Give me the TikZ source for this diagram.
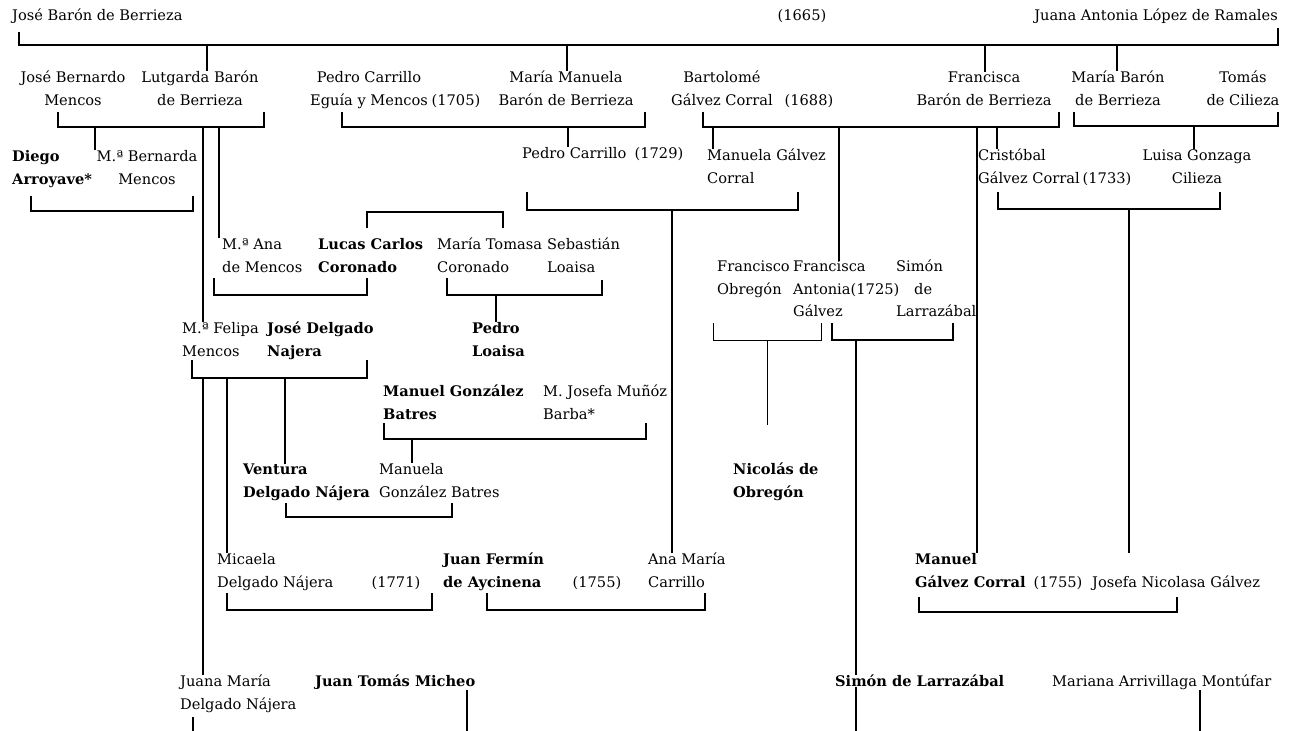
\documentclass[tikz,border=0pt]{standalone}
\usepackage{fontspec}
\setmainfont{DejaVu Serif}
\usetikzlibrary{positioning, calc}

\begin{document}
\begin{tikzpicture}[
    x=1pt, y=-1pt,
    font=\fontsize{14.6}{22.5}\selectfont,
    pers/.style={inner sep=0pt, align=left, anchor=base west},
    persc/.style={inner sep=0pt, align=center, anchor=base},
    heir/.style={pers, font=\fontsize{14.6}{22.5}\selectfont\bfseries},
    yr/.style={inner sep=0pt, anchor=base},
    link/.style={line width=1.1pt},
    faint/.style={line width=0.6pt}
]
\useasboundingbox (0,0) rectangle (1291,731);

% Row 0: founders
\node[pers] (jose) at (12,20) {José Barón de Berrieza};
\node[yr] (y1665) at (802,20) {(1665)};
\node[pers, anchor=base east] (juana) at (1278,20) {Juana Antonia López de Ramales};

% Row 1: children and spouses (base = last line)
\node[persc] (jbernardo) at (73,105) {José Bernardo\\Mencos};
\node[persc] (lutgarda) at (200,105) {Lutgarda Barón\\de Berrieza};
\node[persc] (pcarrillo) at (369,105) {Pedro Carrillo\\Eguía y Mencos};
\node[yr] (y1705) at (456,105) {(1705)};
\node[persc] (mmanuela) at (566,105) {María Manuela\\Barón de Berrieza};
\node[persc] (bartolome) at (722,105) {Bartolomé\\Gálvez Corral};
\node[yr] (y1688) at (809,105) {(1688)};
\node[persc] (francisca) at (984,105) {Francisca\\Barón de Berrieza};
\node[persc] (mbaron) at (1118,105) {María Barón\\de Berrieza};
\node[persc] (tomas) at (1243,105) {Tomás\\de Cilieza};

% Row 2
\node[heir] (diego) at (12,184) {Diego\\Arroyave*};
\node[persc] (mbernarda) at (147,184) {M.ª Bernarda\\Mencos};
\node[pers] (pcarrillojr) at (522,158.5) {Pedro Carrillo};
\node[yr] (y1729) at (659,158.5) {(1729)};
\node[pers] (manuela) at (707,183) {Manuela Gálvez\\Corral};
\node[pers] (cristobal) at (978,183) {Cristóbal\\Gálvez Corral};
\node[yr] (y1733) at (1107,183) {(1733)};
\node[persc] (luisa) at (1197,183) {Luisa Gonzaga\\Cilieza};

% Row 3
\node[pers] (mana) at (222,272) {M.ª Ana\\de Mencos};
\node[heir] (lucas) at (318,272) {Lucas Carlos\\Coronado};
\node[pers] (mtomasa) at (437,272) {María Tomasa\\Coronado};
\node[pers] (sebastian) at (547,272) {Sebastián\\Loaisa};
\node[pers] (francisco) at (717,294) {Francisco\\Obregón};
\node[pers] (fantonia) at (793,316.5) {Francisca\\Antonia\\Gálvez};
\node[yr] (y1725) at (875,294) {(1725)};
\node[pers] (simon) at (896,316.5) {Simón\\\hspace*{18pt}de\\Larrazábal};

% Row 4
\node[pers] (mfelipa) at (182,356) {M.ª Felipa\\Mencos};
\node[heir] (jdelgado) at (267,356) {José Delgado\\Najera};
\node[heir] (ploaisa) at (472,356) {Pedro\\Loaisa};
\node[heir] (mgonzalez) at (383,419) {Manuel González\\Batres};
\node[pers] (mjosefa) at (543,419) {M. Josefa Muñóz\\Barba*};

% Row 5
\node[heir] (ventura) at (243,497) {Ventura\\Delgado Nájera};
\node[pers] (manuelagb) at (379,497) {Manuela\\González Batres};
\node[heir] (nicolas) at (733,497) {Nicolás de\\Obregón};

% Row 6
\node[pers] (micaela) at (217,587) {Micaela\\Delgado Nájera};
\node[yr] (y1771) at (396,587) {(1771)};
\node[heir] (jfermin) at (443,587) {Juan Fermín\\de Aycinena};
\node[yr] (y1755a) at (597,587) {(1755)};
\node[pers] (anamaria) at (648,587) {Ana María\\Carrillo};
\node[heir] (mgalvez) at (915,587) {Manuel\\Gálvez Corral};
\node[yr] (y1755b) at (1058,587) {(1755)};
\node[pers] (josefa) at (1092,587) {Josefa Nicolasa Gálvez};

% Row 7
\node[pers] (juanamaria) at (180,709) {Juana María\\Delgado Nájera};
\node[heir] (jtomas) at (315,686.5) {Juan Tomás Micheo};
\node[heir] (slarrazabal) at (835,686.5) {Simón de Larrazábal};
\node[pers] (mariana) at (1052,686.5) {Mariana Arrivillaga Montúfar};

% marriage brackets
\coordinate (m0a) at (19,32);    \coordinate (m0b) at (1278,28);
\coordinate (m1a) at (58,112);   \coordinate (m1b) at (264,112);
\coordinate (m2a) at (342,112);  \coordinate (m2b) at (645,112);
\coordinate (m3a) at (703,112);  \coordinate (m3b) at (1059,112);
\coordinate (m4a) at (1074,112); \coordinate (m4b) at (1278,112);
\coordinate (m5a) at (31,196);   \coordinate (m5b) at (193,196);
\coordinate (m6a) at (527,192);  \coordinate (m6b) at (798,192);
\coordinate (m7a) at (998,192);  \coordinate (m7b) at (1220,192);
\coordinate (m8a) at (214,278);  \coordinate (m8b) at (367,278);
\coordinate (m9a) at (447,278);  \coordinate (m9b) at (602,280);
\coordinate (m10a) at (713,323); \coordinate (m10b) at (821,323);
\coordinate (m11a) at (832,323); \coordinate (m11b) at (953,323);
\coordinate (m12a) at (192,360); \coordinate (m12b) at (367,360);
\coordinate (m13a) at (384,423); \coordinate (m13b) at (646,423);
\coordinate (m14a) at (286,503); \coordinate (m14b) at (452,503);
\coordinate (m15a) at (227,593); \coordinate (m15b) at (432,593);
\coordinate (m16a) at (487,593); \coordinate (m16b) at (705,593);
\coordinate (m17a) at (919,597); \coordinate (m17b) at (1177,597);
\coordinate (s1a) at (367,228);  \coordinate (s1b) at (503,228);

\draw[link] (m0a) -- ++(0,13) -| (m0b);
\draw[link] (m1a) -- ++(0,15) -| (m1b);
\draw[link] (m2a) -- ++(0,15) -| (m2b);
\draw[link] (m3a) -- ++(0,15) -| (m3b);
\draw[link] (m4a) -- ++(0,14) -| (m4b);
\draw[link] (m5a) -- ++(0,15) -| (m5b);
\draw[link] (m6a) -- ++(0,18) -| (m6b);
\draw[link] (m7a) -- ++(0,17) -| (m7b);
\draw[link] (m8a) -- ++(0,17) -| (m8b);
\draw[link] (m9a) -- ++(0,17) -| (m9b);
\draw[faint] (m10a) -- ++(0,17) -| (m10b);
\draw[link] (m11a) -- ++(0,17) -| (m11b);
\draw[link] (m12a) -- ++(0,18) -| (m12b);
\draw[link] (m13a) -- ++(0,16) -| (m13b);
\draw[link] (m14a) -- ++(0,14) -| (m14b);
\draw[link] (m15a) -- ++(0,17) -| (m15b);
\draw[link] (m16a) -- ++(0,17) -| (m16b);
\draw[link] (m17a) -- ++(0,15) -| (m17b);
% siblings Lucas and Maria Tomasa
\draw[link] (s1a) -- ++(0,-16) -| (s1b);

% descent lines
\coordinate (d1) at (207,45);   \coordinate (d2) at (567,45);
\coordinate (d3) at (985,45);   \coordinate (d4) at (1117,45);
\coordinate (d5) at (95,127);   \coordinate (d6) at (203,127);
\coordinate (d7) at (219,127);  \coordinate (d8) at (568,127);
\coordinate (d9) at (713,127);  \coordinate (d10) at (839,127);
\coordinate (d11) at (977,127); \coordinate (d12) at (997,127);
\coordinate (d13) at (1194,126); \coordinate (d14) at (672,210);
\coordinate (d15) at (1129,209); \coordinate (d16) at (496,295);
\coordinate (d17) at (767,340); \coordinate (d18) at (856,340);
\coordinate (d19) at (203,378); \coordinate (d20) at (227,378);
\coordinate (d21) at (285,378); \coordinate (d22) at (412,439);

\draw[link] (d1) -- (d1 |- lutgarda.north);
\draw[link] (d2) -- (d2 |- mmanuela.north);
\draw[link] (d3) -- (d3 |- francisca.north);
\draw[link] (d4) -- (d4 |- mbaron.north);
\draw[link] (d5) -- (d5 |- mbernarda.north);
\draw[link] (d6) -- (d6 |- mfelipa.north);
\draw[link] (d7) -- (d7 |- mana.north);
\draw[link] (d8) -- (d8 |- pcarrillojr.north);
\draw[link] (d9) -- (d9 |- manuela.north);
\draw[link] (d10) -- (d10 |- fantonia.north);
\draw[link] (d11) -- (d11 |- mgalvez.north);
\draw[link] (d12) -- (d12 |- cristobal.north);
\draw[link] (d13) -- (d13 |- luisa.north);
\draw[link] (d14) -- (d14 |- anamaria.north);
\draw[link] (d15) -- (d15 |- mgalvez.north);
\draw[link] (d16) -- (d16 |- ploaisa.north);
\draw[faint, shorten >=38pt] (d17) -- (d17 |- nicolas.north);
\draw[link] (d18) -- (d18 |- slarrazabal.north);
\draw[link] (d19) -- (d19 |- juanamaria.north);
\draw[link] (d20) -- (d20 |- micaela.north);
\draw[link] (d21) -- (d21 |- ventura.north);
\draw[link] (d22) -- (d22 |- manuelagb.north);

% lines running off the page
\coordinate (e1) at (193,731);  \coordinate (e2) at (467,731);
\coordinate (e3) at (856,731);  \coordinate (e4) at (1200,731);
\draw[link, shorten <=5pt] (e1 |- juanamaria.south) -- (e1);
\draw[link] (e2 |- jtomas.south) -- (e2);
\draw[link] (e3 |- slarrazabal.south) -- (e3);
\draw[link] (e4 |- mariana.south) -- (e4);

\end{tikzpicture}
\end{document}
